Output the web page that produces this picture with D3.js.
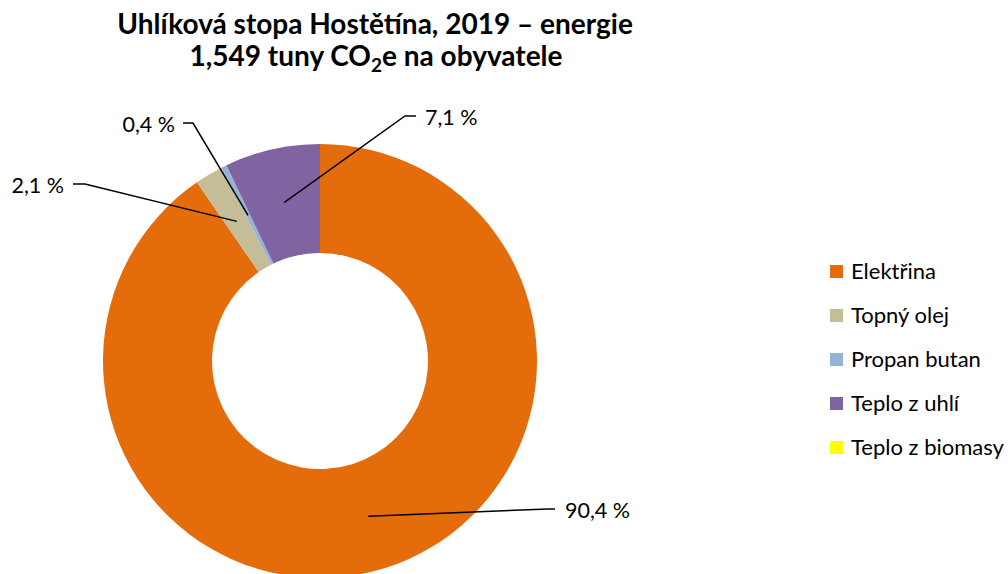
<!DOCTYPE html>
<html>
<head>
<meta charset="utf-8">
<script src="https://cdn.jsdelivr.net/npm/d3@7"></script>
<style>
  body { margin: 0; background: #fff; }
  svg { font-family: Lato, "Open Sans", sans-serif; }
</style>
</head>
<body>
<div id="chart"></div>
<script>
// data
var categories = ["Elektřina", "Topný olej", "Propan butan", "Teplo z uhlí", "Teplo z biomasy"];
var shares = [90.4, 2.1, 0.4, 7.1, 0.0];
var labels = ["90,4 %", "2,1 %", "0,4 %", "7,1 %", ""];
var colors = ["#E46C0A", "#C4BD97", "#95B3D7", "#8064A2", "#FFFF00"];

const WIDTH = 1008, HEIGHT = 574;
var svg = d3.select("#chart").append("svg")
    .attr("width", WIDTH)
    .attr("height", HEIGHT);

// titulek
var title = svg.append("text")
    .attr("x", 375).attr("y", 34)
    .attr("text-anchor", "middle")
    .style("font-size", "28px").style("font-weight", "bold");
title.append("tspan").text("Uhlíková stopa Hostětína, 2019 – energie");
var t2 = svg.append("text")
    .attr("x", 376).attr("y", 66)
    .attr("text-anchor", "middle")
    .style("font-size", "28px").style("font-weight", "bold");
t2.append("tspan").text("1,549 tuny CO");
t2.append("tspan").attr("dy", 6).style("font-size", "19px").text("2");
t2.append("tspan").attr("dy", -6).text("e na obyvatele");

// prstenec
var cx = 320, cy = 361, rOut = 217, rIn = 108;
var g = svg.append("g").attr("transform", "translate(" + cx + "," + cy + ")");
var pie = d3.pie().sort(null).value(function(d) { return d; });
var arcs = pie(shares);
var arc = d3.arc().innerRadius(rIn).outerRadius(rOut);

g.selectAll("path")
    .data(arcs)
    .enter().append("path")
    .attr("d", arc)
    .attr("fill", function(d, i) { return colors[i]; });

// popisky - pozice textu a lomu cary
var labelLayout = [
    { elbow: [548, 509], end: [555, 509], text: [565, 518], anchor: "start" },
    { elbow: [85, 184], end: [73, 184], text: [64, 193], anchor: "end" },
    { elbow: [193, 123], end: [183, 123], text: [175, 132], anchor: "end" },
    { elbow: [405, 116], end: [416, 116], text: [425, 125], anchor: "start" }
];
labelLayout.forEach(function(L, i) {
    var c = arc.centroid(arcs[i]);
    var p0 = [cx + c[0], cy + c[1]];
    svg.append("polyline")
        .attr("points", [p0, L.elbow, L.end].map(function(p) { return p.join(","); }).join(" "))
        .attr("fill", "none")
        .attr("stroke", "#000")
        .attr("stroke-width", 1.5);
    svg.append("text")
        .attr("x", L.text[0]).attr("y", L.text[1])
        .attr("text-anchor", L.anchor)
        .style("font-size", "21.5px")
        .text(labels[i]);
});

// legenda
var legend = svg.append("g").attr("transform", "translate(830,0)");
var ly = d3.scalePoint().domain(categories).range([271, 447]);
categories.forEach(function(c, i) {
    legend.append("rect")
        .attr("x", 0).attr("y", ly(c) - 6)
        .attr("width", 13).attr("height", 13)
        .attr("fill", colors[i]);
    legend.append("text")
        .attr("x", 21).attr("y", ly(c) + 8)
        .style("font-size", "22px")
        .text(c);
});
</script>
</body>
</html>
